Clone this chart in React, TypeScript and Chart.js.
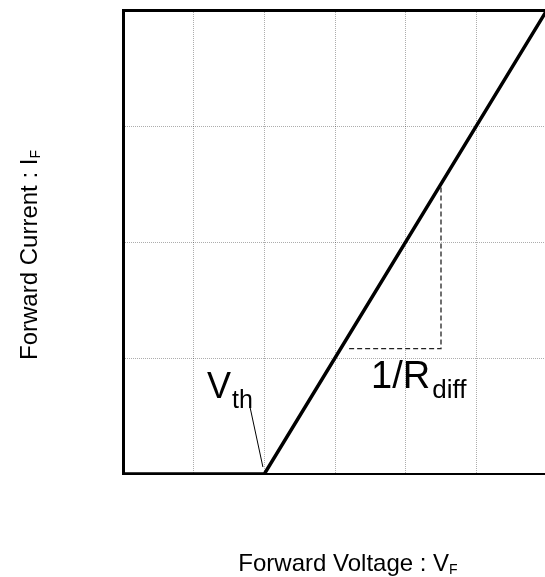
import React, { useEffect, useRef } from "react";
import { Chart, registerables } from "chart.js";

Chart.register(...registerables);

// ---- data ----
const xTickValues = [0, 1, 2, 3, 4, 5, 6];
const yTickValues = [0, 1, 2, 3, 4];
const curveVoltage = [0, 2, 6];
const curveCurrent = [0, 0, 4];
const slopeVoltage = [3.2, 4.5, 4.5];
const slopeCurrent = [1.08, 1.08, 2.49];
const leaderVoltage = [1.8, 1.98];
const leaderCurrent = [0.57, 0.06];
const vthAnchor = [1.19, 0.653];
const rdiffAnchor = [3.51, 0.739];
const xTitle = ["Forward Voltage : V", "F"];
const yTitle = ["Forward Current : I", "F"];
const vthText = ["V", "th"];
const rdiffText = ["1/R", "diff"];

const FONT = '"Liberation Sans", Arial, Helvetica, sans-serif';

const toPts = (xs: number[], ys: number[]) => xs.map((x, i) => ({ x, y: ys[i] }));

const labelPlugin = {
  id: "labels",
  afterDraw(chart: any) {
    const { ctx, scales } = chart;
    const xs = scales.x;
    const ys = scales.y;
    ctx.save();
    ctx.fillStyle = "#000";
    ctx.textBaseline = "alphabetic";
    ctx.textAlign = "left";

    const drawSub = (x: number, y: number, main: string, sub: string, mainSize: number, subSize: number, drop: number, gap: number) => {
      ctx.font = `${mainSize}px ${FONT}`;
      ctx.fillText(main, x, y);
      const w = ctx.measureText(main).width;
      ctx.font = `${subSize}px ${FONT}`;
      ctx.fillText(sub, x + w + gap, y + drop);
    };

    // V_th
    drawSub(xs.getPixelForValue(vthAnchor[0]), ys.getPixelForValue(vthAnchor[1]), vthText[0], vthText[1], 36, 25, 10, 1);
    // 1/R_diff
    drawSub(xs.getPixelForValue(rdiffAnchor[0]), ys.getPixelForValue(rdiffAnchor[1]), rdiffText[0], rdiffText[1], 38, 26, 10, 2);

    // x title
    ctx.font = `24px ${FONT}`;
    const xw = ctx.measureText(xTitle[0]).width;
    ctx.font = `14px ${FONT}`;
    const xsw = ctx.measureText(xTitle[1]).width;
    const xStart = 348 - (xw + xsw) / 2;
    drawSub(xStart, 571, xTitle[0], xTitle[1], 24, 14, 3, 0);

    // y title
    ctx.save();
    ctx.translate(37, 255);
    ctx.rotate(-Math.PI / 2);
    ctx.font = `24px ${FONT}`;
    const yw = ctx.measureText(yTitle[0]).width;
    ctx.font = `14px ${FONT}`;
    const ysw = ctx.measureText(yTitle[1]).width;
    drawSub(-(yw + ysw) / 2, 0, yTitle[0], yTitle[1], 24, 14, 3, 0);
    ctx.restore();

    ctx.restore();
  },
};

export default function App() {
  const ref = useRef<HTMLCanvasElement | null>(null);

  useEffect(() => {
    if (!ref.current) return;
    const chart = new Chart(ref.current, {
      type: "line",
      data: {
        datasets: [
          {
            data: toPts(curveVoltage, curveCurrent),
            borderColor: "#000",
            borderWidth: 3.5,
            pointRadius: 0,
            tension: 0,
          },
          {
            data: toPts(slopeVoltage, slopeCurrent),
            borderColor: "#222",
            borderWidth: 1.3,
            borderDash: [5, 3],
            pointRadius: 0,
            tension: 0,
          },
          {
            data: toPts(leaderVoltage, leaderCurrent),
            borderColor: "#000",
            borderWidth: 1,
            pointRadius: 0,
            tension: 0,
          },
        ],
      },
      options: {
        responsive: false,
        animation: false,
        devicePixelRatio: 1,
        layout: { padding: { left: 123, top: 10, right: 0, bottom: 103 } },
        plugins: { legend: { display: false }, tooltip: { enabled: false } },
        scales: {
          x: {
            type: "linear",
            position: "bottom",
            min: xTickValues[0],
            max: xTickValues[xTickValues.length - 1],
            afterBuildTicks: (s: any) => {
              s.ticks = xTickValues.map((v) => ({ value: v }));
            },
            ticks: { display: false },
            grid: { color: "rgba(0,0,0,0.32)", lineWidth: 1, drawTicks: false },
            border: { color: "#000", width: 2, dash: [1, 1] },
          },
          x2: {
            type: "linear",
            position: "top",
            min: xTickValues[0],
            max: xTickValues[xTickValues.length - 1],
            ticks: { display: false },
            grid: { display: false, drawTicks: false },
            border: { color: "#000", width: 3 },
          },
          y: {
            type: "linear",
            position: "left",
            min: yTickValues[0],
            max: yTickValues[yTickValues.length - 1],
            afterBuildTicks: (s: any) => {
              s.ticks = yTickValues.map((v) => ({ value: v }));
            },
            ticks: { display: false },
            grid: { color: "rgba(0,0,0,0.32)", lineWidth: 1, drawTicks: false },
            border: { color: "#000", width: 3, dash: [1, 1] },
          },
        },
      },
      plugins: [labelPlugin],
    } as any);
    return () => chart.destroy();
  }, []);

  return (
    <div
      style={{
        position: "fixed",
        left: 0,
        top: 0,
        width: 545,
        height: 577,
        overflow: "hidden",
        background: "#fff",
      }}
    >
      <canvas ref={ref} width={547} height={577} style={{ display: "block", width: 547, height: 577 }} />
    </div>
  );
}
